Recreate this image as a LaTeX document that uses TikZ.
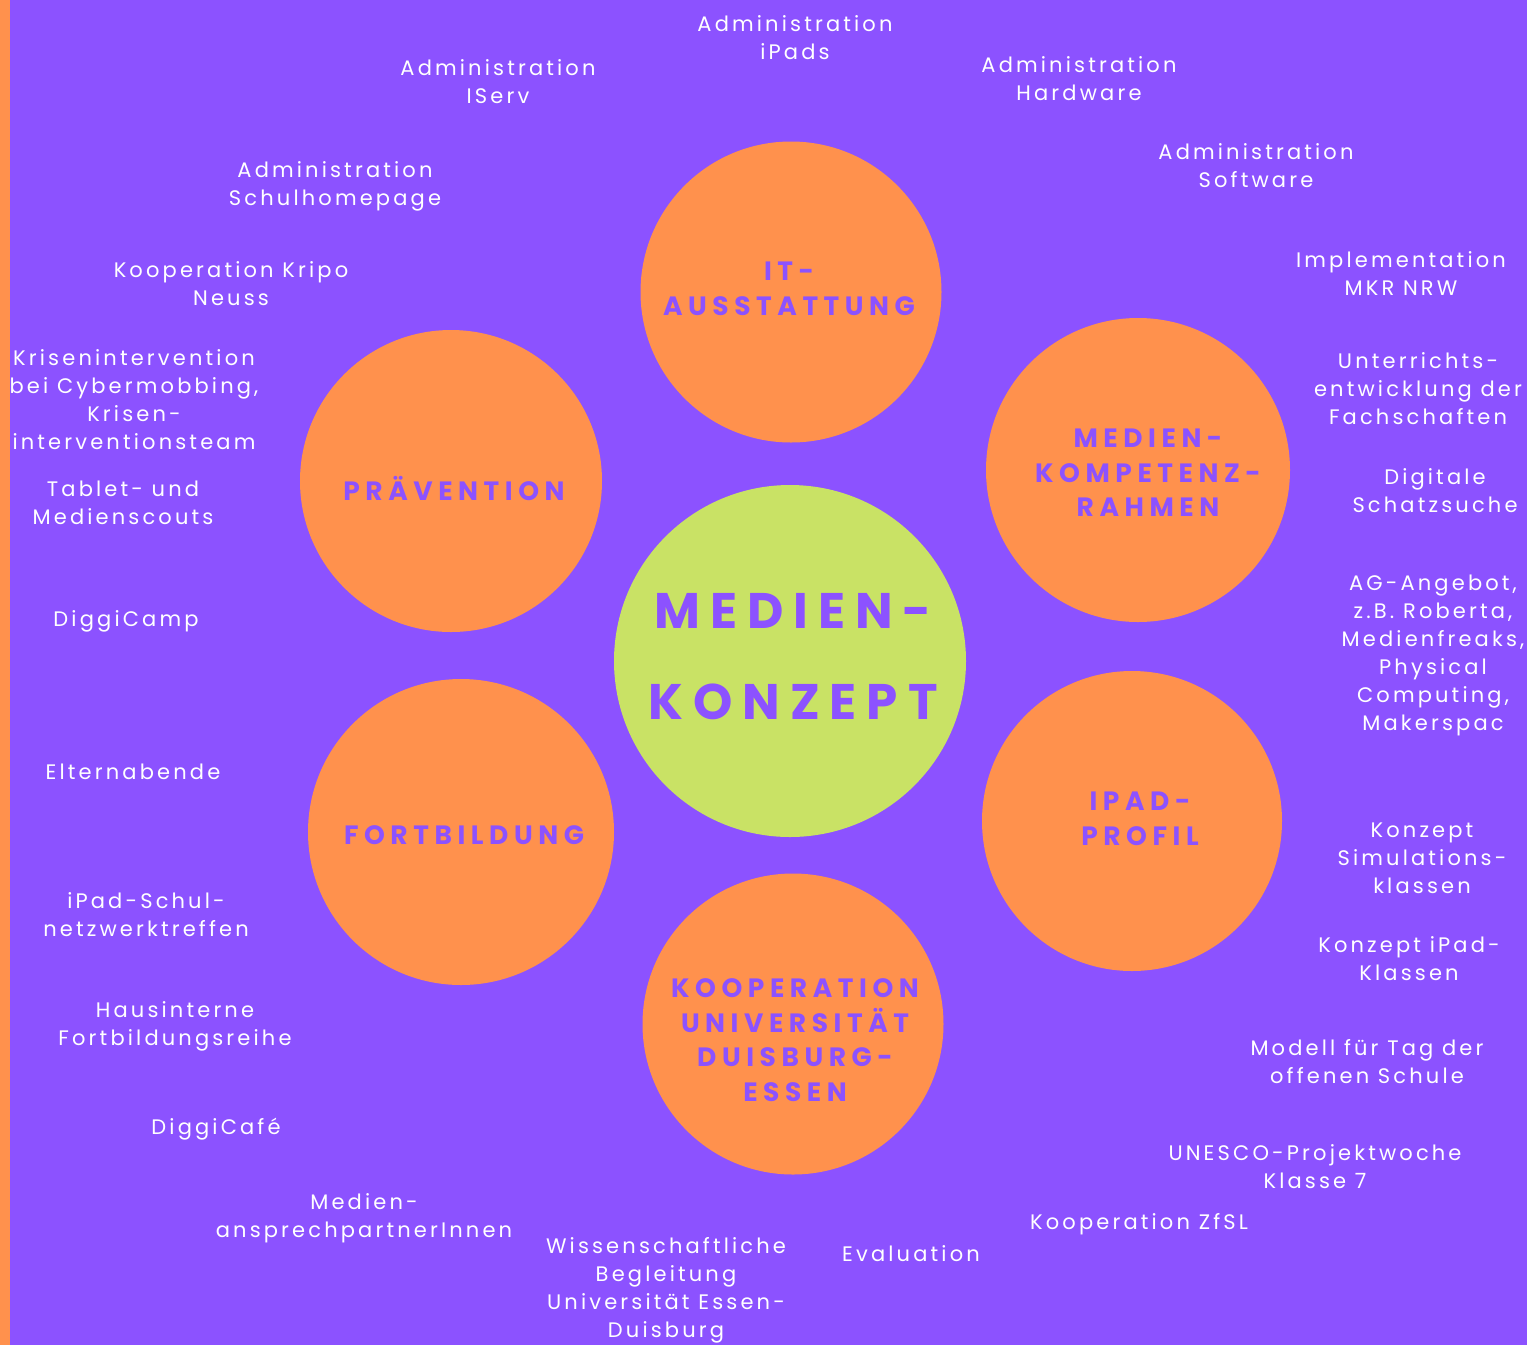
\documentclass[tikz,border=0pt]{standalone}
\usepackage{fontspec}
\setmainfont{Poppins}
\newfontfamily\txtfont[LetterSpace=15]{Poppins}
\newfontfamily\lblfont[LetterSpace=21]{Poppins}
\newfontfamily\bigfont[LetterSpace=20]{Poppins}
\definecolor{purp}{HTML}{8C52FF}
\definecolor{orng}{HTML}{FF914D}
\definecolor{lime}{HTML}{C9E265}
\begin{document}
\begin{tikzpicture}[x=1pt,y=-1pt,
  txt/.style={text=white, font=\txtfont\fontsize{21}{28}\selectfont, align=center, inner sep=0pt},
  lbl/.style={text=purp, font=\lblfont\bfseries\fontsize{26.5}{34.5}\selectfont, align=center, inner sep=0pt},
  biglbl/.style={text=purp, font=\bigfont\bfseries\fontsize{50}{91}\selectfont, align=center, inner sep=0pt},
  bubble/.style={circle, fill=orng, inner sep=0pt},
  hub/.style={circle, fill=lime, inner sep=0pt}]
\fill[purp] (0,0) rectangle (1527,1345);
\fill[orng] (0,0) rectangle (10,1345);
\useasboundingbox (0,0) rectangle (1527,1345);
% circles
\node[hub, minimum size=352pt] (hubc) at (790,661) {};
\node[bubble, minimum size=301pt] (it) at (791,292) {};
\node[bubble, minimum size=304pt] (mkr) at (1138,470) {};
\node[bubble, minimum size=300pt] (ipad) at (1132,821) {};
\node[bubble, minimum size=301pt] (koop) at (793,1024) {};
\node[bubble, minimum size=306pt] (fort) at (461,832) {};
\node[bubble, minimum size=302pt] (prae) at (451,481) {};
% circle labels
\node[biglbl] (hubt) at (793,657) {MEDIEN-\\KONZEPT};
\node[lbl] (itt) at (789,289) {IT-\\AUSSTATTUNG};
\node[lbl] (mkrt) at (1148,473) {MEDIEN-\\KOMPETENZ-\\RAHMEN};
\node[lbl] (praet) at (454,488) {PRÄVENTION};
\node[lbl] (ipadt) at (1140,819) {IPAD-\\PROFIL};
\node[lbl] (fortt) at (464,835) {FORTBILDUNG};
\node[lbl] (koopt) at (795,1040) {KOOPERATION\\UNIVERSITÄT\\DUISBURG-\\ESSEN};
% outer texts
\node[txt] (t1) at (795,38) {Administration\\iPads};
\node[txt] (t2) at (498,82) {Administration\\IServ};
\node[txt] (t3) at (1079,79) {Administration\\Hardware};
\node[txt] (t4) at (1256,166) {Administration\\Software};
\node[txt] (t5) at (335,186) {Administration\\Schulhomepage};
\node[txt] (t6) at (231,284) {Kooperation Kripo\\Neuss};
\node[txt] (t7) at (1401,274) {Implementation\\MKR NRW};
\node[txt] (t8) at (1418,389) {Unterrichts-\\entwicklung der\\Fachschaften};
\node[txt] (t9) at (134,400) {Krisenintervention\\bei Cybermobbing,\\Krisen-\\interventionsteam};
\node[txt] (t10) at (123,503) {Tablet- und\\Medienscouts};
\node[txt] (t11) at (1435,491) {Digitale\\Schatzsuche};
\node[txt] (t12) at (1433,655) {AG-Angebot,\\z.B. Roberta,\\Medienfreaks,\\Physical\\Computing,\\Makerspac};
\node[txt] (t13) at (126,621) {DiggiCamp};
\node[txt] (t14) at (133,772) {Elternabende};
\node[txt] (t15) at (1422,858) {Konzept\\Simulations-\\klassen};
\node[txt] (t16) at (146,915) {iPad-Schul-\\netzwerktreffen};
\node[txt] (t17) at (1409,959) {Konzept iPad-\\Klassen};
\node[txt] (t18) at (175,1026) {Hausinterne\\Fortbildungsreihe};
\node[txt] (t19) at (1367,1062) {Modell für Tag der\\offenen Schule};
\node[txt] (t20) at (216,1129) {DiggiCafé};
\node[txt] (t21) at (1315,1167) {UNESCO-Projektwoche\\Klasse 7};
\node[txt] (t22) at (364,1218) {Medien-\\ansprechpartnerInnen};
\node[txt] (t23) at (1139,1224) {Kooperation ZfSL};
\node[txt] (t24) at (911,1254) {Evaluation};
\node[txt] (t25) at (666,1290) {Wissenschaftliche\\Begleitung\\Universität Essen-\\Duisburg};
\end{tikzpicture}
\end{document}
